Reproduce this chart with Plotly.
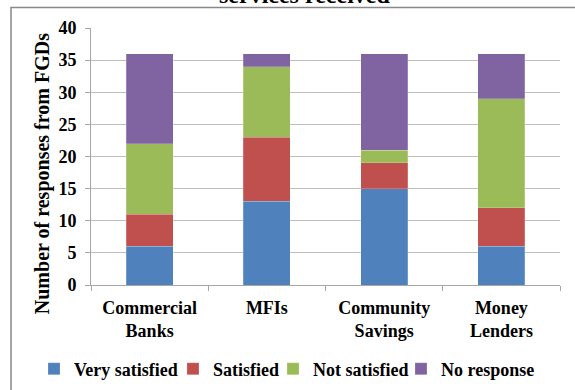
import plotly.graph_objects as go

categories = ["Commercial<br>Banks", "MFIs", "Community<br>Savings", "Money<br>Lenders"]
very_satisfied = [6, 13, 15, 6]
satisfied = [5, 10, 4, 6]
not_satisfied = [11, 11, 2, 17]
no_response = [14, 2, 15, 7]

series = [
    ("Very satisfied", very_satisfied, "#4F81BD"),
    ("Satisfied", satisfied, "#C0504D"),
    ("Not satisfied", not_satisfied, "#9BBB59"),
    ("No response", no_response, "#8064A2"),
]

FONT = "Times New Roman, Liberation Serif, serif"

legend_ids = ["legend", "legend2", "legend3", "legend4"]
legend_x = [-0.1215, 0.1748, 0.3881, 0.6610]

fig = go.Figure()
for (name, vals, col), lid in zip(series, legend_ids):
    fig.add_trace(go.Bar(
        x=categories, y=vals, name=name, legend=lid,
        marker=dict(color=col, line=dict(color="rgba(255,255,255,0.4)", width=0.5)),
        width=0.4,
    ))

legend_common = dict(
    orientation="h", xanchor="left", y=-0.255, yanchor="top",
    font=dict(family=FONT, size=18, color="black", weight=700),
    itemwidth=30, bgcolor="rgba(0,0,0,0)",
)

layout_legends = {}
for lid, lx in zip(legend_ids, legend_x):
    layout_legends[lid] = dict(legend_common, x=lx)

fig.update_layout(
    barmode="stack",
    width=575, height=390,
    margin=dict(l=91, r=15, t=28, b=105, autoexpand=False),
    paper_bgcolor="white", plot_bgcolor="white",
    font=dict(family=FONT, color="black", weight=700),
    showlegend=True,
    xaxis=dict(
        showline=True, linecolor="#a6a6a6", linewidth=1,
        ticks="outside", tickson="boundaries", ticklen=5, tickcolor="#a6a6a6",
        tickfont=dict(family=FONT, size=18, color="black", weight=700),
        ticklabelstandoff=6,
        showgrid=False, automargin=False,
    ),
    yaxis=dict(
        range=[0, 40], dtick=5, showgrid=True, gridcolor="#bfbfbf", gridwidth=1.2,
        showline=True, linecolor="#a6a6a6", linewidth=1,
        ticks="outside", ticklen=5, tickcolor="#a6a6a6",
        tickfont=dict(family=FONT, size=18, color="black", weight=700),
        ticklabelstandoff=5,
        zeroline=False, automargin=False,
    ),
    **layout_legends,
)

# y-axis title (placed like the original, centred on the chart area)
fig.add_annotation(text="Number of responses from FGDs", xref="paper", yref="paper",
                   x=-0.1045, y=0.435, xanchor="center", yanchor="middle",
                   textangle=-90, showarrow=False,
                   font=dict(family=FONT, size=20, color="black", weight=700))

# outer chart border
fig.add_shape(type="rect", xref="paper", yref="paper",
              x0=-0.1706, x1=1.1, y0=-0.45, y1=1.0798,
              line=dict(color="#888888", width=1.5), layer="below")

# partially visible title (cut off at top)
fig.add_annotation(text="services received", xref="paper", yref="paper",
                   x=0.456, y=1.129, xanchor="center", yanchor="middle",
                   showarrow=False,
                   font=dict(family=FONT, size=24, color="black", weight=700))

fig.write_html("out.html", config={"displayModeBar": False},
               post_script="document.body.style.margin='0';")
